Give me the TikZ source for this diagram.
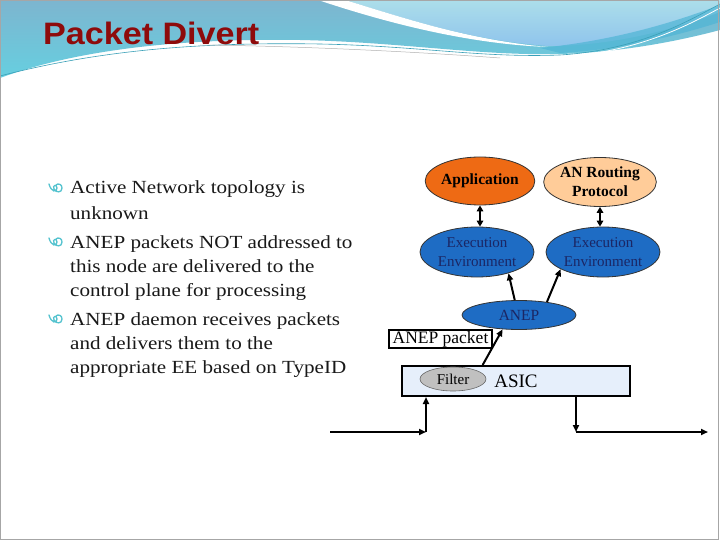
\documentclass[tikz,border=0pt]{standalone}
\usepackage{fontspec}
\setmainfont{Liberation Serif}
\newfontfamily\bodyfont{Liberation Serif}[FakeStretch=1.14]
\newfontfamily\titlefont{Liberation Sans}[FakeStretch=1.1]
\usetikzlibrary{shapes.geometric,arrows.meta,calc}
\definecolor{apporange}{RGB}{238,106,20}
\definecolor{peach}{RGB}{255,204,153}
\definecolor{eeblue}{RGB}{30,108,196}
\definecolor{navytext}{RGB}{27,38,100}
\definecolor{filtergray}{RGB}{192,192,192}
\definecolor{asicfill}{RGB}{230,239,251}
\definecolor{bulcyan}{RGB}{85,195,207}
\definecolor{titlered}{RGB}{142,11,11}
\definecolor{bandtop}{RGB}{125,181,207}
\definecolor{bandbot}{RGB}{102,207,224}
\definecolor{lighttop}{RGB}{172,222,234}
\definecolor{lightbot}{RGB}{143,196,236}
\definecolor{swline}{RGB}{58,160,184}
\definecolor{cyanband}{RGB}{79,181,213}
\begin{document}
\begin{tikzpicture}[x=1pt,y=-1pt,
  bodyline/.style={anchor=base west, inner sep=0pt, text=black!90, font=\bodyfont\fontsize{18.5}{22}\selectfont},
  bulletmark/.pic={\draw[bulcyan, line width=1.3pt, line cap=round]
     (0,-9) .. controls (2,-1) and (8,0) .. (8,-5)
     .. controls (8,-9) and (3,-8) .. (5,-4)
     .. controls (7,0) and (13,0) .. (13,-5)
     .. controls (13,-9) and (9,-10) .. (7,-8);},
  oval/.style={ellipse, draw=black!80, line width=0.8pt, inner sep=0pt, align=center},
  eeoval/.style={oval, fill=eeblue, text=navytext, minimum width=114pt, minimum height=50pt, font=\fontsize{15}{19}\selectfont},
  arr/.style={line width=2pt, -{Triangle[length=7pt,width=6pt]}},
  darr/.style={line width=2.5pt, {Triangle[length=6pt,width=6.5pt]}-{Triangle[length=6pt,width=6.5pt]}}]
\useasboundingbox (0,0) rectangle (720,540);
\fill[white] (0,0) rectangle (720,540);
% background swooshes
\path[top color=bandtop, bottom color=bandbot] (0,0) -- (720,0) -- (720,30)
  .. controls (690,38) and (630,52) .. (560,54)
  .. controls (480,56) and (400,42) .. (300,40)
  .. controls (170,38) and (70,52) .. (0,78) -- cycle;
\path[top color=lighttop, bottom color=lightbot] (345,0) -- (720,0) -- (720,12)
  .. controls (660,35) and (600,46) .. (548,46)
  .. controls (470,40) and (410,20) .. (345,0) -- cycle;
\fill[white] (318,0) .. controls (390,24) and (470,44) .. (548,47)
  .. controls (470,40) and (410,20) .. (345,0) -- cycle;
\fill[cyanband, opacity=0.7] (540,48) .. controls (620,40) and (680,20) .. (720,5) -- (720,22)
  .. controls (680,35) and (620,50) .. (560,53) -- cycle;
\draw[swline, line width=0.6pt] (0,76) .. controls (100,50) and (200,42) .. (320,44)
  .. controls (420,46) and (480,58) .. (560,55) .. controls (640,50) and (690,20) .. (720,4);
\draw[white, line width=0.8pt] (0,80) .. controls (100,54) and (200,46) .. (320,48)
  .. controls (420,50) and (480,60) .. (560,57) .. controls (640,52) and (690,24) .. (720,8);
\draw[gray!60, line width=0.5pt] (200,45) .. controls (300,46) and (420,52) .. (500,58);
\draw[gray!70, line width=1pt] (0.5,0.5) rectangle (718.5,539.5);
% title
\node[anchor=base west, inner sep=0pt, text=titlered, font=\titlefont\bfseries\fontsize{31}{31}\selectfont] (title) at (43,45) {Packet Divert};
% bullets
\pic at (49,193) {bulletmark};
\node[bodyline] (l1) at (70,194) {Active Network topology is};
\node[bodyline] (l2) at (70,219) {unknown};
\pic at (49,247) {bulletmark};
\node[bodyline] (l3) at (70,248) {ANEP packets NOT addressed to};
\node[bodyline] (l4) at (70,272) {this node are delivered to the};
\node[bodyline] (l5) at (70,296) {control plane for processing};
\pic at (49,324) {bulletmark};
\node[bodyline] (l6) at (70,325) {ANEP daemon receives packets};
\node[bodyline] (l7) at (70,349) {and delivers them to the};
\node[bodyline] (l8) at (70,373) {appropriate EE based on TypeID};
% diagram
\node[oval, fill=apporange, minimum width=96pt, minimum height=48pt, font=\bfseries\fontsize{15.5}{19}\selectfont] (app) at (480,181) {Application};
\node[oval, fill=peach, minimum width=96pt, minimum height=49pt, font=\bfseries\fontsize{15.5}{19}\selectfont] (anr) at (600,182) {AN Routing\\Protocol};
\node[eeoval] (eeL) at (477,252) {Execution\\Environment};
\node[eeoval] (eeR) at (603,252) {Execution\\Environment};
\node[oval, fill=eeblue, text=navytext, minimum width=114pt, minimum height=29pt, font=\fontsize{15.5}{19}\selectfont] (anep) at (519,315) {ANEP};
\node[draw, line width=2pt, fill=asicfill, minimum width=228pt, minimum height=30pt, inner sep=0pt] (asic) at (516,381) {};
\node[oval, fill=filtergray, draw=black!60, line width=0.6pt, minimum width=66pt, minimum height=24pt, font=\fontsize{15}{15}\selectfont] (filter) at (453,379) {Filter};
\node[inner sep=0pt, font=\fontsize{19}{19}\selectfont] (asiclbl) at (516,381) {ASIC};
\node[draw, line width=1.5pt, fill=white, inner sep=0pt, minimum width=103pt, minimum height=18pt, font=\fontsize{17.5}{18}\selectfont] (pkt) at (440.5,339) {ANEP packet};
\draw[darr] (app.south) -- (app.south |- eeL.north);
\draw[darr] (anr.south) -- (anr.south |- eeR.north);
\draw[arr] (anep.106) -- (eeL.-34);
\draw[arr] (anep.25) -- (eeR.202);
\draw[arr] ($(asic.north west)!0.355!(asic.north east)$) -- (anep.221);
\coordinate (inA) at (330,432);
\coordinate (inB) at (426,432);
\coordinate (outA) at (576,432);
\coordinate (outB) at (708,432);
\draw[arr] (inA) -- (inB);
\draw[arr] (inB) -- (inB |- asic.south);
\draw[arr] (outA |- asic.south) -- (outA);
\draw[arr] (outA) -- (outB);
\end{tikzpicture}
\end{document}
